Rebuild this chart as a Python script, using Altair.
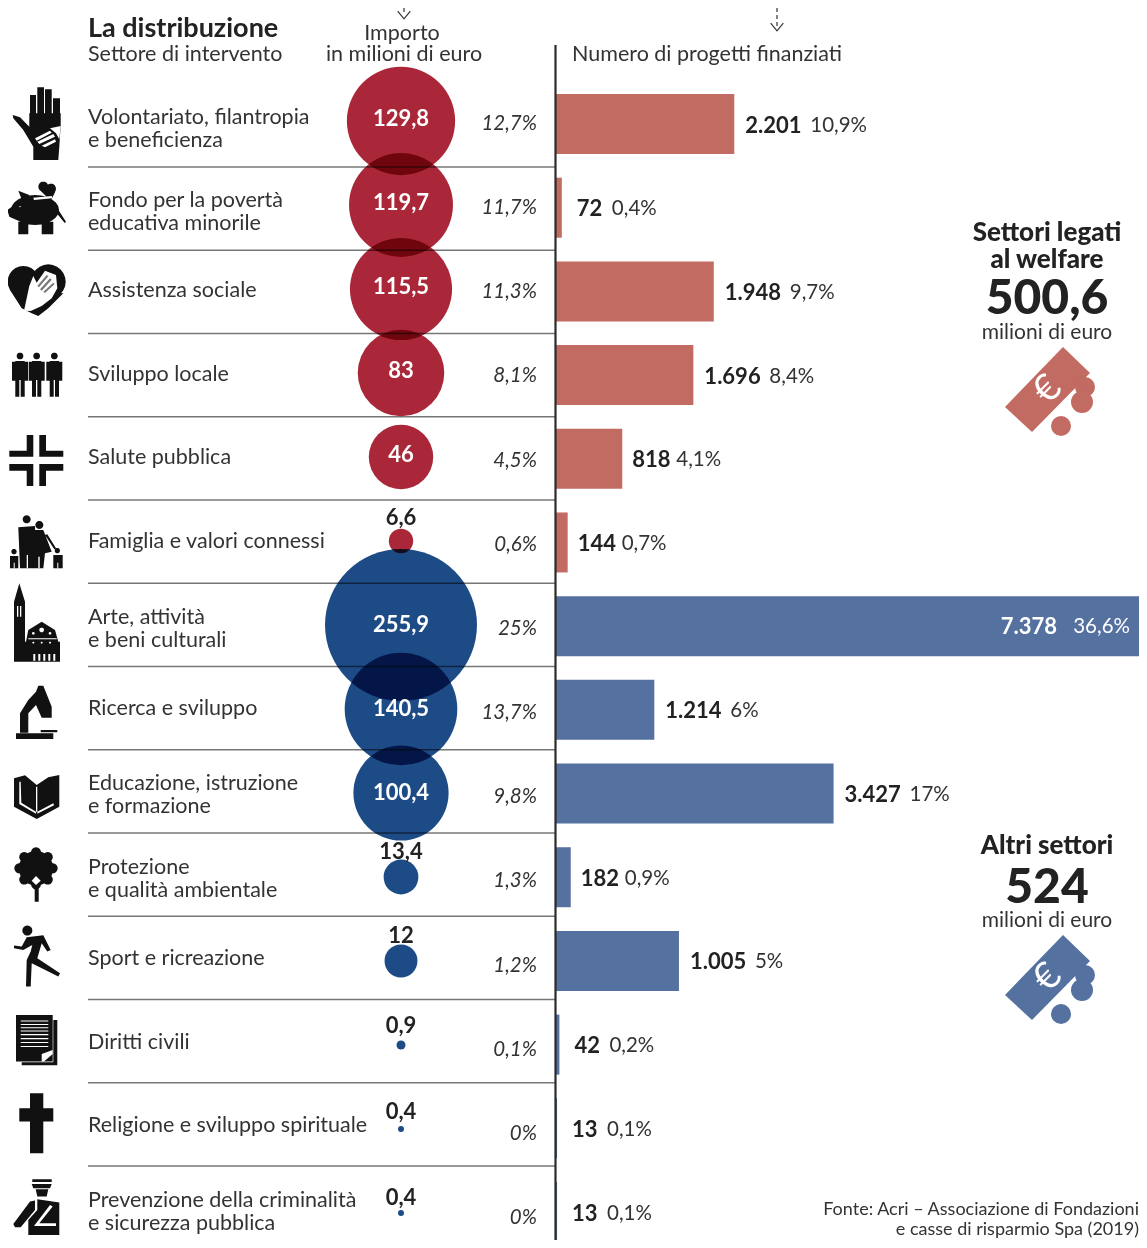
import math
import altair as alt
import pandas as pd

FONT = "Lato"
INK = "#222222"
BODY = "#333333"

sectors = ["Volontariato, filantropia\ne beneficienza", "Fondo per la povertà\neducativa minorile",
           "Assistenza sociale", "Sviluppo locale", "Salute pubblica", "Famiglia e valori connessi",
           "Arte, attività\ne beni culturali", "Ricerca e sviluppo", "Educazione, istruzione\ne formazione",
           "Protezione\ne qualità ambientale", "Sport e ricreazione", "Diritti civili",
           "Religione e sviluppo spirituale", "Prevenzione della criminalità\ne sicurezza pubblica"]
groups = ["welfare"] * 6 + ["altri"] * 8
amounts = [129.8, 119.7, 115.5, 83, 46, 6.6, 255.9, 140.5, 100.4, 13.4, 12, 0.9, 0.4, 0.4]
amount_labels = ["129,8", "119,7", "115,5", "83", "46", "6,6", "255,9", "140,5", "100,4", "13,4", "12", "0,9", "0,4", "0,4"]
amount_shares = ["12,7%", "11,7%", "11,3%", "8,1%", "4,5%", "0,6%", "25%", "13,7%", "9,8%", "1,3%", "1,2%", "0,1%", "0%", "0%"]
# bar lengths as drawn in the picture (the sport bar is drawn longer than its printed 1.005)
projects = [2201, 72, 1948, 1696, 818, 144, 7378, 1214, 3427, 182, 1518, 42, 13, 13]
project_labels = ["2.201", "72", "1.948", "1.696", "818", "144", "7.378", "1.214", "3.427", "182", "1.005", "42", "13", "13"]
project_shares = ["10,9%", "0,4%", "9,7%", "8,4%", "4,1%", "0,7%", "36,6%", "6%", "17%", "0,9%", "5%", "0,2%", "0,1%", "0,1%"]
separators = [i + 0.5 for i in range(13)]


# ---- icon glyphs, traced in a 3x crop of the picture ----
def rect(x0, y0, x1, y1):
    return [(x0, y0), (x1, y0), (x1, y1), (x0, y1)]


def disc(cx, cy, rx, ry=None):
    ry = ry or rx
    return [(cx + rx * math.cos(i * math.pi / 12), cy + ry * math.sin(i * math.pi / 12)) for i in range(24)]


def glyph(polys, top, centre):
    out = []
    for p in polys:
        area = sum(p[i][0] * p[(i + 1) % len(p)][1] - p[(i + 1) % len(p)][0] * p[i][1] for i in range(len(p)))
        pts = p if area > 0 else p[::-1]
        out.append("M" + "L".join(f"{(x - 111) / 3:.1f},{(y / 3 + top - centre):.1f}" for x, y in pts) + "Z")
    return "".join(out)


def people():
    out = []
    for c in (60, 110, 163):
        out += [disc(c, 1068, 10), rect(c - 14, 1083, c + 14, 1140), rect(c - 24, 1085, c - 14, 1142),
                rect(c + 14, 1085, c + 24, 1142), rect(c - 14, 1138, c - 2, 1190), rect(c + 2, 1138, c + 14, 1190)]
    return out


icons = [
    dict(top=0, dark=[rect(90, 285, 108, 350), rect(112, 262, 132, 350), rect(135, 268, 155, 350), rect(159, 295, 180, 350),
                      [(88, 340), (182, 340), (182, 375), (178, 440), (175, 480), (100, 480), (100, 440), (70, 390), (40, 355), (38, 345), (60, 352), (88, 380)]],
         light=[[(105, 415), (150, 392), (155, 398), (110, 422)], [(112, 425), (160, 402), (165, 410), (118, 432)],
                [(125, 437), (165, 418), (168, 425), (135, 442)], [(150, 385), (182, 378), (178, 418), (168, 400)]]),
    dict(top=0, dark=[disc(105, 630, 72, 45), [(22, 630), (50, 610), (55, 662), (28, 650)], [(55, 572), (88, 585), (68, 605)],
                      rect(55, 665, 85, 703), rect(125, 665, 160, 703), [(172, 625), (198, 665), (194, 669), (170, 640)],
                      disc(130, 560, 15), disc(153, 566, 15), [(117, 568), (166, 575), (152, 602)]],
         light=[[(100, 593), (155, 588), (157, 595), (102, 600)], disc(60, 620, 2)]),
    dict(top=0, dark=[disc(70, 845, 47), disc(145, 845, 52), [(30, 870), (190, 880), (145, 925), (115, 948), (95, 940), (65, 925)]],
         light=[[(72, 932), (88, 858), (100, 828), (110, 848), (135, 812), (168, 825), (172, 865), (155, 895), (125, 918), (92, 933)]],
         extra=[[(112, 858), (140, 825), (145, 829), (117, 862)], [(120, 868), (150, 835), (155, 839), (125, 872)],
                [(130, 875), (160, 848), (164, 852), (135, 879)]]),
    dict(top=0, dark=people(), light=[]),
    dict(top=420, dark=[[(80, 45), (100, 45), (100, 110), (28, 110), (28, 92), (80, 92)],
                        [(118, 45), (138, 45), (138, 92), (190, 92), (190, 110), (118, 110)],
                        [(28, 132), (100, 132), (100, 198), (80, 198), (80, 152), (28, 152)],
                        [(118, 132), (190, 132), (190, 152), (138, 152), (138, 198), (118, 198)]], light=[]),
    dict(top=420, dark=[disc(80, 298, 12), [(55, 322), (105, 318), (108, 445), (60, 445)], disc(118, 315, 12),
                        [(100, 330), (130, 330), (155, 395), (135, 400), (130, 445), (105, 445)],
                        [(135, 345), (142, 343), (168, 385), (163, 388)], disc(42, 395, 8), rect(30, 408, 55, 445),
                        disc(172, 392, 8), rect(160, 405, 188, 445)],
         light=[rect(80, 405, 84, 445), rect(115, 410, 119, 445), rect(41, 428, 44, 445), rect(172, 428, 175, 445)]),
    dict(top=420, dark=[[(58, 490), (75, 545), (75, 725), (42, 725), (42, 545)], rect(75, 665, 180, 725),
                        [(78, 665), (85, 630), (125, 605), (165, 630), (175, 665)]],
         light=[rect(51, 558, 55, 590), rect(60, 558, 64, 590), rect(85, 655, 170, 658), rect(100, 702, 106, 722),
                rect(115, 702, 121, 722), rect(130, 702, 136, 722), rect(145, 702, 151, 722), rect(160, 702, 166, 722),
                disc(125, 630, 7), disc(100, 640, 4), disc(150, 640, 4), disc(100, 668, 3), disc(125, 668, 3), disc(150, 668, 3)]),
    dict(top=420, dark=[rect(48, 940, 160, 957), rect(122, 930, 172, 937),
                        [(60, 938), (60, 880), (85, 840), (108, 815), (115, 797), (130, 797), (155, 860), (155, 893), (125, 893),
                         (108, 855), (85, 880), (85, 938)]], light=[]),
    dict(top=420, dark=[[(42, 1075), (75, 1066), (110, 1095), (145, 1072), (178, 1065), (178, 1160), (110, 1197), (42, 1160)]],
         light=[[(58, 1085), (62, 1085), (64, 1148), (108, 1175), (108, 1181), (58, 1152)], rect(108, 1100, 112, 1175),
                [(112, 1175), (160, 1150), (162, 1156), (112, 1181)]]),
    dict(top=830, dark=[disc(108, 115, 52)] + [disc(108 + 50 * math.cos(i * math.pi / 4), 115 + 48 * math.sin(i * math.pi / 4), 15) for i in range(8)] +
                      [rect(104, 170, 116, 215), [(88, 145), (95, 142), (112, 175), (104, 180)], [(128, 145), (121, 142), (104, 175), (112, 180)]],
         light=[[(108, 138), (122, 152), (108, 165), (95, 152)]]),
    dict(top=830, dark=[disc(82, 302, 15), [(80, 322), (130, 316), (152, 360), (142, 365), (125, 340), (112, 385), (180, 430), (175, 440),
                                            (115, 410), (95, 400), (92, 470), (78, 470), (80, 390), (92, 365), (97, 345), (70, 360), (42, 355), (42, 347), (65, 350)]], light=[]),
    dict(top=830, dark=[rect(48, 555, 158, 695), rect(160, 570, 172, 706), rect(65, 697, 172, 706)],
         light=[rect(62, 572, 145, 575), rect(62, 582, 145, 585), rect(62, 592, 145, 595), rect(62, 602, 145, 605),
                rect(62, 612, 145, 616), rect(62, 624, 145, 628), rect(62, 636, 145, 639), rect(62, 648, 145, 651),
                [(125, 672), (158, 660), (158, 672), (132, 695), (125, 695)]]),
    dict(top=830, dark=[rect(90, 790, 130, 970), rect(58, 835, 160, 875)], light=[]),
    dict(top=830, dark=[rect(97, 1048, 155, 1056), [(95, 1062), (155, 1062), (150, 1075), (100, 1075)],
                        [(107, 1078), (145, 1078), (140, 1100), (112, 1100)],
                        [(40, 1182), (90, 1115), (105, 1112), (105, 1140), (62, 1192), (45, 1192)],
                        [(112, 1108), (178, 1118), (178, 1215), (85, 1215), (85, 1170), (112, 1140)]],
         light=[[(150, 1125), (158, 1130), (118, 1180), (168, 1180), (168, 1188), (102, 1188)]]),
]
row_centre = [124 + 83.7 * i for i in range(14)]

df = pd.DataFrame({
    "row": list(range(14)), "sector": sectors, "group": groups, "amount": amounts, "amount_label": amount_labels,
    "amount_share": amount_shares, "projects": projects, "project_label": project_labels, "project_share": project_shares,
    "dark": [glyph(ic["dark"], ic["top"], c) for ic, c in zip(icons, row_centre)],
    "light": [glyph(ic["light"], ic["top"], c) if ic["light"] else "M0,0Z" for ic, c in zip(icons, row_centre)],
    "extra": [glyph(ic.get("extra", []), ic["top"], c) if ic.get("extra") else "M0,0Z" for ic, c in zip(icons, row_centre)],
})
share_gap = {5: 76, 3: 54, 2: 50}
label_gap = {5: 11, 3: 10, 2: 15}
PX_PER_PROJECT = 597.6 / 7378
df["share_pos"] = [p + share_gap[len(l)] / PX_PER_PROJECT for p, l in zip(projects, project_labels)]
df["label_pos"] = [p + label_gap[len(l)] / PX_PER_PROJECT for p, l in zip(projects, project_labels)]


def yrow(first, last):
    return alt.Y("row:Q", axis=None, scale=alt.Scale(domain=[0, 13], range=[first - 8, last - 8], zero=False, nice=False, padding=0))


def xv(px):
    return alt.value(px - 8)


def subset(rows):
    return df[df["row"].isin(rows)]


xbar = lambda f="projects": alt.X(f"{f}:Q", axis=None, stack=None,
                                  scale=alt.Scale(domain=[0, 7378], range=[548, 548 + 597.6], zero=False, nice=False, padding=0))
group_dom = ["welfare", "altri"]
layers = []

# row separators and axis line
layers.append(alt.Chart(pd.DataFrame({"sep": separators})).mark_rule(color="#777777", strokeWidth=1.5).encode(
    x=xv(88), x2=xv(555),
    y=alt.Y("sep:Q", axis=None, scale=alt.Scale(domain=[0.5, 12.5], range=[159, 1158], zero=False, nice=False, padding=0))))

# icons
layers.append(alt.Chart(df).mark_point(filled=True, opacity=1, color="#111111", strokeWidth=0).encode(
    x=xv(37), y=yrow(124, 1212), shape=alt.Shape("dark:N", scale=None, legend=None), size=alt.value(4)))
layers.append(alt.Chart(df).mark_point(filled=True, opacity=1, color="#ffffff", strokeWidth=0).encode(
    x=xv(37), y=yrow(124, 1212), shape=alt.Shape("light:N", scale=None, legend=None), size=alt.value(4)))
layers.append(alt.Chart(df).mark_point(filled=True, opacity=1, color="#777777", strokeWidth=0).encode(
    x=xv(37), y=yrow(124, 1212), shape=alt.Shape("extra:N", scale=None, legend=None), size=alt.value(4)))

# sector names
two_line = [0, 1, 6, 8, 9, 13]
one_line = [2, 3, 4, 5, 7, 10, 11, 12]
name_style = dict(font=FONT, fontSize=21.5, color=BODY, align="left", baseline="middle", lineBreak="\n", lineHeight=23, dy=1)
layers.append(alt.Chart(subset(two_line)).mark_text(**name_style).encode(x=xv(88), y=yrow(117, 1200), text="sector:N"))
layers.append(alt.Chart(subset(one_line)).mark_text(**name_style).encode(x=xv(88), y=yrow(123, 1208.5), text="sector:N"))

# bubbles
layers.append(alt.Chart(df).mark_circle(opacity=0.95, blend="multiply").encode(
    x=xv(401), y=yrow(121, 1213),
    size=alt.Size("amount:Q", legend=None, scale=alt.Scale(domain=[0, 255.9], range=[0, 23104], zero=True)),
    color=alt.Color("group:N", legend=None, scale=alt.Scale(domain=group_dom, range=["#a51b2d", "#104180"]))))
white = dict(font=FONT, fontSize=22, fontWeight="bold", color="#ffffff", align="center", baseline="middle", dy=1)
black = dict(font=FONT, fontSize=22, fontWeight="bold", color=INK, align="center", baseline="middle", dy=1)
layers.append(alt.Chart(subset([0, 1, 2, 3, 4])).mark_text(**white).encode(x=xv(401), y=yrow(118, 1210), text="amount_label:N"))
layers.append(alt.Chart(subset([6, 7, 8])).mark_text(**white).encode(x=xv(401), y=yrow(120, 1212), text="amount_label:N"))
layers.append(alt.Chart(subset([5, 9, 10])).mark_text(**black).encode(x=xv(401), y=yrow(100, 1185), text="amount_label:N"))
layers.append(alt.Chart(subset([11, 12, 13])).mark_text(**black).encode(x=xv(401), y=yrow(79, 1197), text="amount_label:N"))

# amount shares
layers.append(alt.Chart(df).mark_text(font=FONT, fontSize=20.5, fontStyle="italic", color=BODY, align="right", baseline="middle", dy=1).encode(
    x=xv(537), y=yrow(123, 1217), text="amount_share:N"))

# project bars
layers.append(alt.Chart(df).mark_bar(orient="horizontal", size=60).encode(
    x=xbar(), y=yrow(124, 1212),
    color=alt.Color("group:N", legend=None, scale=alt.Scale(domain=group_dom, range=["#c26b62", "#55719f"]))))
layers.append(alt.Chart(pd.DataFrame({"v": [0]})).mark_rule(color="#2b2b2b", strokeWidth=2.2).encode(
    x=xv(555.5), y=alt.value(37), y2=alt.value(1232)))

outside = [r for r in range(14) if r != 6]
layers.append(alt.Chart(subset(outside)).mark_text(font=FONT, fontSize=22, fontWeight="bold", color=INK, align="left", baseline="middle", dy=1.5).encode(
    x=xbar("label_pos"), y=yrow(124, 1212), text="project_label:N"))
layers.append(alt.Chart(subset(outside)).mark_text(font=FONT, fontSize=20.5, color=BODY, align="left", baseline="middle", dy=1.5).encode(
    x=xbar("share_pos"), y=yrow(124, 1212), text="project_share:N"))
layers.append(alt.Chart(subset([6])).mark_text(font=FONT, fontSize=22, fontWeight="bold", color="#ffffff", align="right", baseline="middle", dy=1).encode(
    x=xv(1057), y=yrow(124, 1212), text="project_label:N"))
layers.append(alt.Chart(subset([6])).mark_text(font=FONT, fontSize=20.5, color="#ffffff", align="right", baseline="middle", dy=1).encode(
    x=xv(1130), y=yrow(124, 1212), text="project_share:N"))

# headers, notes and totals
notes = [
    ("La distribuzione", 88, 29, 27, "bold", "left", INK),
    ("Settore di intervento", 88, 55, 21.5, "normal", "left", BODY),
    ("Importo", 402, 34, 21.5, "normal", "center", BODY),
    ("in milioni di euro", 404, 55, 21.5, "normal", "center", BODY),
    ("Numero di progetti finanziati", 572, 55, 21.5, "normal", "left", BODY),
    ("Settori legati", 1047, 233, 26, 900, "center", INK),
    ("al welfare", 1047, 260, 26, 900, "center", INK),
    ("500,6", 1047, 300, 48, 900, "center", INK),
    ("milioni di euro", 1047, 333, 21, "normal", "center", BODY),
    ("Altri settori", 1047, 846, 26, 900, "center", INK),
    ("524", 1047, 889, 48, 900, "center", INK),
    ("milioni di euro", 1047, 921, 21, "normal", "center", BODY),
    ("Fonte: Acri – Associazione di Fondazioni", 1139, 1210, 18, "normal", "right", BODY),
    ("e casse di risparmio Spa (2019)", 1139, 1230, 18, "normal", "right", BODY),
]
for text, x, y, size, weight, align, color in notes:
    layers.append(alt.Chart(pd.DataFrame({"t": [text]})).mark_text(
        font=FONT, fontSize=size, fontWeight=weight, align=align, baseline="middle", color=color).encode(
        x=xv(x), y=alt.value(y - 8), text="t:N"))

# dashed arrows
CHEVRON = "M-1,-0.6L0,0.6L1,-0.6"
for x, y2 in [(404, 15), (777, 27)]:
    layers.append(alt.Chart(pd.DataFrame({"v": [0]})).mark_rule(color=BODY, strokeWidth=1.2, strokeDash=[4, 3]).encode(
        x=xv(x), y=alt.value(0), y2=alt.value(y2 - 8)))
    layers.append(alt.Chart(pd.DataFrame({"v": [0]})).mark_point(shape=CHEVRON, size=160, filled=False, opacity=1, color=BODY, strokeWidth=1.2).encode(
        x=xv(x), y=alt.value(y2 - 8)))

# banknote badges
NOTE = "M15,-43L42,-17L-16,42L-43,17Z"
for dy, colour in [(0, "#c26b62"), (588, "#55719f")]:
    pos = dict(x=xv(1048), y=alt.value(390 + dy - 8))
    layers.append(alt.Chart(pd.DataFrame({"v": [0]})).mark_point(shape=NOTE, size=4, filled=True, opacity=1, color=colour, strokeWidth=0).encode(**pos))
    for cx, cy, d in [(1085, 387, 20), (1082, 402, 22), (1061, 426, 20)]:
        layers.append(alt.Chart(pd.DataFrame({"v": [0]})).mark_circle(size=d * d, opacity=1, color=colour).encode(
            x=xv(cx), y=alt.value(cy + dy - 8)))
    layers.append(alt.Chart(pd.DataFrame({"t": ["€"]})).mark_text(
        font=FONT, fontSize=38, angle=315, color="#ffffff", align="center", baseline="middle").encode(
        x=xv(1048), y=alt.value(390 + dy - 8), text="t:N"))

chart = alt.layer(*layers).resolve_scale(x="independent", y="independent", color="independent", size="independent", shape="independent").properties(
    width=1131, height=1232, padding=0, autosize="none", background="#ffffff"
).configure_view(stroke=None)

chart.save("out.html", embed_options={"renderer": "svg", "actions": False})
